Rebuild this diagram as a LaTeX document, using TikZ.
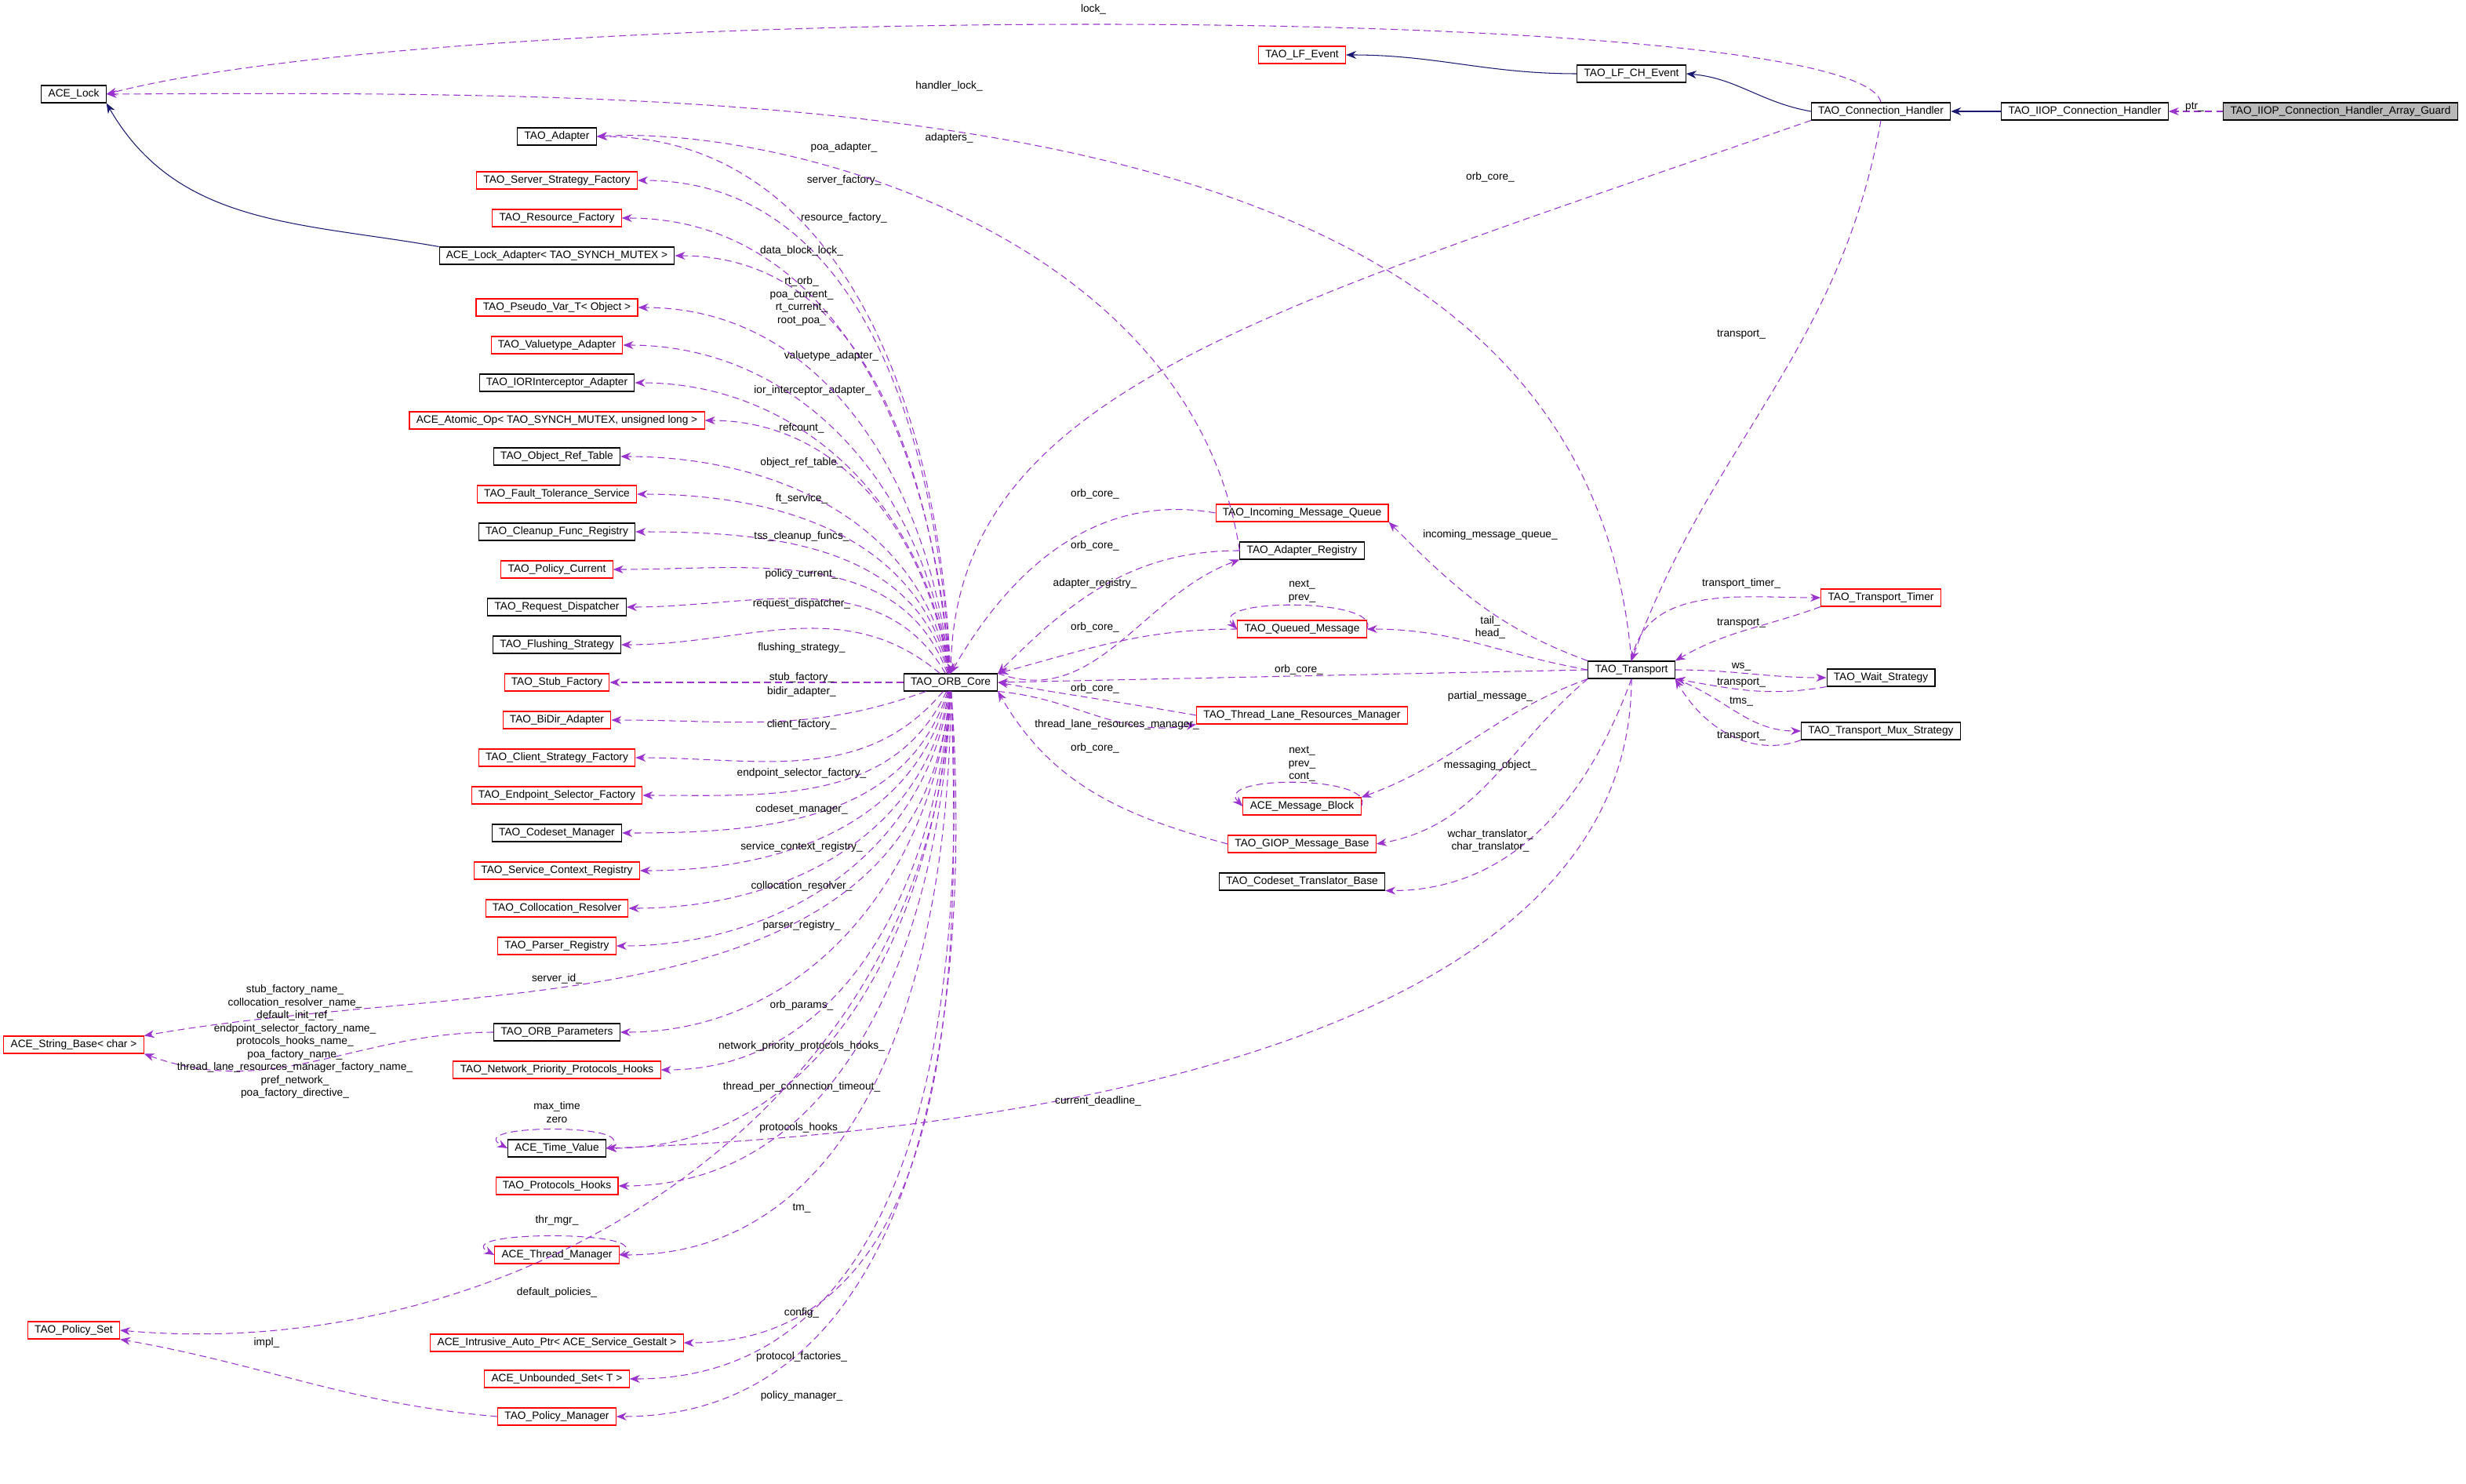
\documentclass[tikz,border=0pt]{standalone}
\usepackage{fontspec}
\setmainfont{Liberation Sans}
\usetikzlibrary{arrows.meta,positioning}
\definecolor{memberC}{HTML}{9A32CD}
\definecolor{inheritC}{HTML}{191970}
\tikzset{
    cls/.style={draw=black, fill=white, line width=0.3pt, inner xsep=2.5pt, inner ysep=0pt, minimum height=0.22cm, font=\fontsize{3.9}{4.6}\selectfont},
    clsR/.style={cls, draw=red},
    clsG/.style={cls, fill=gray!55},
    lbl/.style={inner sep=0pt, font=\fontsize{3.9}{4.7}\selectfont, align=center},
    memberE/.style={draw=memberC, dashed, dash pattern=on 2.5pt off 1.5pt, line width=0.3pt, -{Stealth[length=1.3mm,width=1mm]}},
    inheritE/.style={draw=inheritC, line width=0.3pt, -{Stealth[length=1.3mm,width=1mm]}}
}
\begin{document}
\begin{tikzpicture}[x=0.02cm, y=-0.02cm]
    \useasboundingbox (0,0) rectangle (1572,946);
    % right-hand chain
    \node[cls]  (lock)  at (47,60)   {ACE\_Lock};
    \node[clsR] (lfEv)  at (830,35)  {TAO\_LF\_Event};
    \node[cls]  (lfch)  at (1040,47) {TAO\_LF\_CH\_Event};
    \node[cls]  (conn)  at (1199,71) {TAO\_Connection\_Handler};
    \node[cls]  (iiop)  at (1329,71) {TAO\_IIOP\_Connection\_Handler};
    \node[clsG] (guard) at (1492,71) {TAO\_IIOP\_Connection\_Handler\_Array\_Guard};
    % members of the orb core
    \node[cls]  (adapter) at (355,87)  {TAO\_Adapter};
    \node[clsR] (ssf)     at (355,115) {TAO\_Server\_Strategy\_Factory};
    \node[clsR] (rf)      at (355,139) {TAO\_Resource\_Factory};
    \node[cls]  (lockad)  at (355,163) {ACE\_Lock\_Adapter< TAO\_SYNCH\_MUTEX >};
    \node[clsR] (pvar)    at (355,196) {TAO\_Pseudo\_Var\_T< Object >};
    \node[clsR] (vta)     at (355,220) {TAO\_Valuetype\_Adapter};
    \node[cls]  (iori)    at (355,244) {TAO\_IORInterceptor\_Adapter};
    \node[clsR] (atomic)  at (355,268) {ACE\_Atomic\_Op< TAO\_SYNCH\_MUTEX, unsigned long >};
    \node[cls]  (ort)     at (355,291) {TAO\_Object\_Ref\_Table};
    \node[clsR] (fts)     at (355,315) {TAO\_Fault\_Tolerance\_Service};
    \node[cls]  (cfr)     at (355,339) {TAO\_Cleanup\_Func\_Registry};
    \node[clsR] (pcur)    at (355,363) {TAO\_Policy\_Current};
    \node[cls]  (rdisp)   at (355,387) {TAO\_Request\_Dispatcher};
    \node[cls]  (flush)   at (355,411) {TAO\_Flushing\_Strategy};
    \node[clsR] (stubf)   at (355,435) {TAO\_Stub\_Factory};
    \node[clsR] (bidir)   at (355,459) {TAO\_BiDir\_Adapter};
    \node[clsR] (csf)     at (355,483) {TAO\_Client\_Strategy\_Factory};
    \node[clsR] (esf)     at (355,507) {TAO\_Endpoint\_Selector\_Factory};
    \node[cls]  (csm)     at (355,531) {TAO\_Codeset\_Manager};
    \node[clsR] (scr)     at (355,555) {TAO\_Service\_Context\_Registry};
    \node[clsR] (coll)    at (355,579) {TAO\_Collocation\_Resolver};
    \node[clsR] (parser)  at (355,603) {TAO\_Parser\_Registry};
    \node[clsR] (strb)    at (47,666)  {ACE\_String\_Base< char >};
    \node[cls]  (orbp)    at (355,658) {TAO\_ORB\_Parameters};
    \node[clsR] (nph)     at (355,682) {TAO\_Network\_Priority\_Protocols\_Hooks};
    \node[cls]  (tval)    at (355,732) {ACE\_Time\_Value};
    \node[clsR] (phooks)  at (355,756) {TAO\_Protocols\_Hooks};
    \node[clsR] (thrm)    at (355,800) {ACE\_Thread\_Manager};
    \node[clsR] (pset)    at (47,848)  {TAO\_Policy\_Set};
    \node[clsR] (iap)     at (355,856) {ACE\_Intrusive\_Auto\_Ptr< ACE\_Service\_Gestalt >};
    \node[clsR] (uset)    at (355,879) {ACE\_Unbounded\_Set< T >};
    \node[clsR] (pmgr)    at (355,903) {TAO\_Policy\_Manager};
    \node[cls]  (core)    at (606,435) {TAO\_ORB\_Core};
    % middle column
    \node[clsR] (imq)   at (830,327) {TAO\_Incoming\_Message\_Queue};
    \node[cls]  (areg)  at (830,351) {TAO\_Adapter\_Registry};
    \node[clsR] (qmsg)  at (830,401) {TAO\_Queued\_Message};
    \node[clsR] (tlrm)  at (830,456) {TAO\_Thread\_Lane\_Resources\_Manager};
    \node[clsR] (mblk)  at (830,514) {ACE\_Message\_Block};
    \node[clsR] (giop)  at (830,538) {TAO\_GIOP\_Message\_Base};
    \node[cls]  (cstb)  at (830,562) {TAO\_Codeset\_Translator\_Base};
    \node[cls]  (trans) at (1040,427) {TAO\_Transport};
    \node[clsR] (ttimer) at (1199,381) {TAO\_Transport\_Timer};
    \node[cls]  (wait)  at (1199,432) {TAO\_Wait\_Strategy};
    \node[cls]  (mux)   at (1199,466) {TAO\_Transport\_Mux\_Strategy};

    % inheritance
    \draw[inheritE] (lockad.north west) to[out=170,in=-60] (lock.south east);
    \draw[inheritE] (lfch.west) to[out=180,in=0] (lfEv.east);
    \draw[inheritE] (conn.west) to[out=170,in=-5] (lfch.east);
    \draw[inheritE] (iiop) -- (conn);

    % orb core fan
    \foreach \n/\ly/\o in {adapter/94/92, ssf/115/93, rf/139/94, lockad/160/95, vta/227/97, iori/249/98,
        atomic/273/99, ort/295/100, fts/318/102, cfr/342/105, pcur/366/110, rdisp/385/120, flush/413/140,
        stubf/432/180, bidir/441/200, csf/462/230, esf/493/245, csm/516/252, scr/540/256,
        coll/565/260, parser/590/262, orbp/641/265, nph/667/266, tval/693/267,
        phooks/719/268, thrm/770/270, iap/837/272, uset/865/273, pmgr/890/274}{
        \draw[memberE] (core) to[out=\o, in=0] (\n.east);
    }
    \foreach \l/\lx/\ly in {poa\_adapter\_/538/94, server\_factory\_/538/115, resource\_factory\_/538/139,
        data\_block\_lock\_/511/160, valuetype\_adapter\_/530/227, ior\_interceptor\_adapter\_/518/249,
        refcount\_/511/273, object\_ref\_table\_/511/295, ft\_service\_/511/318, tss\_cleanup\_funcs\_/511/342,
        policy\_current\_/511/366, request\_dispatcher\_/511/385, flushing\_strategy\_/511/413,
        stub\_factory\_/511/432, bidir\_adapter\_/511/441, client\_factory\_/511/462,
        endpoint\_selector\_factory\_/511/493, codeset\_manager\_/511/516, service\_context\_registry\_/511/540,
        collocation\_resolver\_/511/565, parser\_registry\_/511/590, orb\_params\_/511/641,
        network\_priority\_protocols\_hooks\_/511/667, thread\_per\_connection\_timeout\_/511/693,
        protocols\_hooks\_/511/719, tm\_/511/770, config\_/511/837, protocol\_factories\_/511/865,
        policy\_manager\_/511/890}{
        \node[lbl] at (\lx,\ly) {\l};
    }
    \draw[memberE] (core) to[out=96, in=0] (pvar.east);
    \node[lbl] at (511,192) {rt\_orb\_\\poa\_current\_\\rt\_current\_\\root\_poa\_};
    \draw[memberE] (core) to[out=265, in=10] (strb.north east);
    \node[lbl] at (355,624) {server\_id\_};
    \draw[memberE] (core) to[out=268, in=-5] (pset.east);
    \node[lbl] at (355,824) {default\_policies\_};
    \draw[memberE] (orbp.west) to[out=180, in=-20] (strb.south east);
    \node[lbl] at (188,664) {stub\_factory\_name\_\\collocation\_resolver\_name\_\\default\_init\_ref\_\\endpoint\_selector\_factory\_name\_\\protocols\_hooks\_name\_\\poa\_factory\_name\_\\thread\_lane\_resources\_manager\_factory\_name\_\\pref\_network\_\\poa\_factory\_directive\_};
    \draw[memberE] (pmgr.west) to[out=175, in=-10] (pset.south east);
    \node[lbl] at (170,856) {impl\_};
    \draw[memberE] (tval.east) .. controls +(30,-16) and +(-30,-16) .. (tval.west);
    \node[lbl] at (355,709) {max\_time\\zero};
    \draw[memberE] (thrm.east) .. controls +(30,-16) and +(-30,-16) .. (thrm.west);
    \node[lbl] at (355,778) {thr\_mgr\_};

    % around connection handler
    \draw[memberE] (guard.west) -- (iiop.east);
    \node[lbl] at (1399,68) {ptr\_};
    \draw[memberE] (conn.north) .. controls (1185,0) and (300,0) .. (lock.east);
    \node[lbl] at (697,6) {lock\_};
    \draw[memberE] (conn.south) to[out=260, in=70] (trans.north);
    \node[lbl] at (1110,213) {transport\_};
    \draw[memberE] (conn.south west) .. controls (800,200) and (610,250) .. (core.north);
    \node[lbl] at (950,113) {orb\_core\_};
    \draw[memberE] (trans.north) .. controls (1010,55) and (500,58) .. (lock.east);
    \node[lbl] at (605,55) {handler\_lock\_};
    \draw[memberE] (areg.west) .. controls (760,150) and (500,80) .. (adapter.east);
    \node[lbl] at (605,88) {adapters\_};

    % middle column
    \draw[memberE] (imq.west) to[out=170, in=60] (core.north);
    \node[lbl] at (698,315) {orb\_core\_};
    \draw[memberE] (areg.west) to[out=180, in=45] (core.north east);
    \node[lbl] at (698,348) {orb\_core\_};
    \draw[memberE] (core.north east) to[out=-20, in=200] (areg.south west);
    \node[lbl] at (698,372) {adapter\_registry\_};
    \draw[memberE] (qmsg.west) to[out=180, in=15] (core.north east);
    \node[lbl] at (698,400) {orb\_core\_};
    \draw[memberE] (qmsg.east) .. controls +(10,-20) and +(-20,-20) .. (qmsg.west);
    \node[lbl] at (830,377) {next\_\\prev\_};
    \draw[memberE] (tlrm.west) to[out=170, in=-10] (core.east);
    \node[lbl] at (698,439) {orb\_core\_};
    \draw[memberE] (core.south east) to[out=-5, in=190] (tlrm.south west);
    \node[lbl] at (712,462) {thread\_lane\_resources\_manager\_};
    \draw[memberE] (giop.west) to[out=165, in=-60] (core.south east);
    \node[lbl] at (698,477) {orb\_core\_};
    \draw[memberE] (mblk.east) .. controls +(10,-20) and +(-20,-20) .. (mblk.west);
    \node[lbl] at (830,487) {next\_\\prev\_\\cont\_};

    % transport
    \draw[memberE] (trans.west) -- (core.east);
    \node[lbl] at (828,427) {orb\_core\_};
    \draw[memberE] (trans.north west) to[out=160, in=-45] (imq.south east);
    \node[lbl] at (950,341) {incoming\_message\_queue\_};
    \draw[memberE] (trans.west) to[out=170, in=0] (qmsg.east);
    \node[lbl] at (950,400) {tail\_\\head\_};
    \draw[memberE] (trans.south west) to[out=200, in=20] (mblk.north east);
    \node[lbl] at (950,444) {partial\_message\_};
    \draw[memberE] (trans.south west) to[out=220, in=10] (giop.east);
    \node[lbl] at (950,488) {messaging\_object\_};
    \draw[memberE] (trans.south) to[out=250, in=0] (cstb.south east);
    \node[lbl] at (950,536) {wchar\_translator\_\\char\_translator\_};
    \draw[memberE] (trans.south) .. controls (1040,650) and (700,720) .. (tval.east);
    \node[lbl] at (700,702) {current\_deadline\_};
    \draw[memberE] (trans.north) to[out=80, in=180] (ttimer.west);
    \node[lbl] at (1110,372) {transport\_timer\_};
    \draw[memberE] (ttimer.south west) to[out=200, in=30] (trans.north east);
    \node[lbl] at (1110,397) {transport\_};
    \draw[memberE] (trans.east) to[out=0, in=180] (wait.west);
    \node[lbl] at (1110,425) {ws\_};
    \draw[memberE] (wait.south west) to[out=190, in=-10] (trans.south east);
    \node[lbl] at (1110,435) {transport\_};
    \draw[memberE] (trans.south east) to[out=-20, in=180] (mux.west);
    \node[lbl] at (1110,447) {tms\_};
    \draw[memberE] (mux.south west) to[out=200, in=-60] (trans.south east);
    \node[lbl] at (1110,469) {transport\_};
\end{tikzpicture}
\end{document}
